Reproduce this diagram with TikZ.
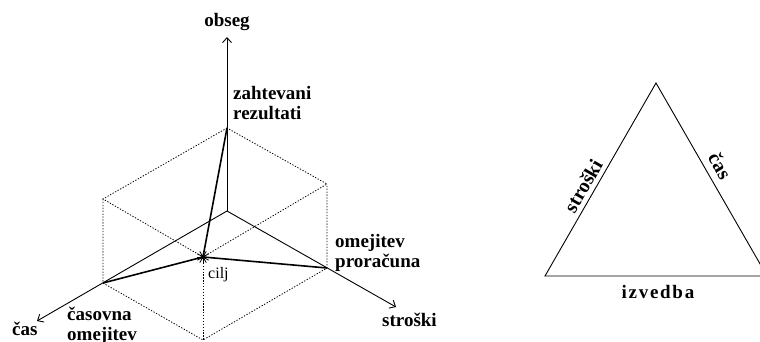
\documentclass[tikz,border=0pt]{standalone}
\usepackage{fontspec}
\setmainfont{Liberation Serif}
\usetikzlibrary{arrows.meta}
\begin{document}
\begin{tikzpicture}[x=1pt,y=-1pt,
  lbl/.style={font=\fontsize{19}{20}\selectfont\bfseries, inner sep=0pt},
  tlbl/.style={font=\fontsize{20}{22}\selectfont\bfseries, inner sep=0pt},
  axis/.style={line width=0.9pt, -{Straight Barb[length=5pt,width=9pt]}},
  cubeedge/.style={line width=0.8pt, dash pattern=on 1.3pt off 1.6pt},
  goal/.style={line width=1.6pt},
  tri/.style={line width=0.9pt}]
\useasboundingbox (0,0) rectangle (760,342);
% points of the 3D diagram
\coordinate (O) at (227,211);
\coordinate (Z) at (227,128);
\coordinate (T) at (103,283);
\coordinate (S) at (327,268);
\coordinate (C) at (203,257);
\coordinate (B) at (203,340);
\coordinate (LT) at (103,199);
\coordinate (RT) at (327,184);
\coordinate (Ytip) at (227,37);
\coordinate (Xtip) at (37,321);
\coordinate (Stip) at (396,307);
% dotted box
\draw[cubeedge] (Z) -- (LT) -- (C) -- (RT) -- cycle;
\draw[cubeedge] (LT) -- (T) -- (B) -- (S) -- (RT);
\draw[cubeedge] (C) -- (B);
% axes
\draw[axis] (O) -- (Ytip);
\draw[axis] (O) -- (Xtip);
\draw[axis] (O) -- (Stip);
% goal lines
\draw[goal] (Z) -- (C);
\draw[goal] (T) -- (C);
\draw[goal] (S) -- (C);
% star
\foreach \a in {0,30,...,150}
  \draw[line width=0.8pt, shift={(C)}] (\a:6.5) -- (\a+180:6.5);
\fill (C) circle (2.2pt);
% labels
\node[lbl, anchor=base] (obseg) at (227,27) {obseg};
\node[lbl, anchor=base west] (zr1) at (233,100) {zahtevani};
\node[lbl, anchor=base west] (zr2) at (233,120) {rezultati};
\node[lbl, anchor=base west] (op1) at (335,247) {omejitev};
\node[lbl, anchor=base west] (op2) at (335,267) {proračuna};
\node[lbl, anchor=base west] (strl) at (382,326) {stroški};
\node[lbl, anchor=base west] (casl) at (12,335) {čas};
\node[lbl, anchor=base west] (co1) at (67,320) {časovna};
\node[lbl, anchor=base west] (co2) at (67,340) {omejitev};
\node[font=\fontsize{16}{18}\selectfont, inner sep=0pt, anchor=base west] (cilj) at (208,278) {cilj};
% triangle
\coordinate (A) at (656,83);
\coordinate (BL) at (545,276);
\coordinate (BR) at (767,276);
\draw[tri] (A) -- (BL) -- (BR) -- cycle;
\node[tlbl, rotate=60] (tstr) at (583,186) {stroški};
\node[tlbl, rotate=-60] (tcas) at (720,166) {čas};
\node[lbl, anchor=base] (tizv) at (658,298) {\addfontfeature{LetterSpace=9}izvedba};
\end{tikzpicture}
\end{document}
